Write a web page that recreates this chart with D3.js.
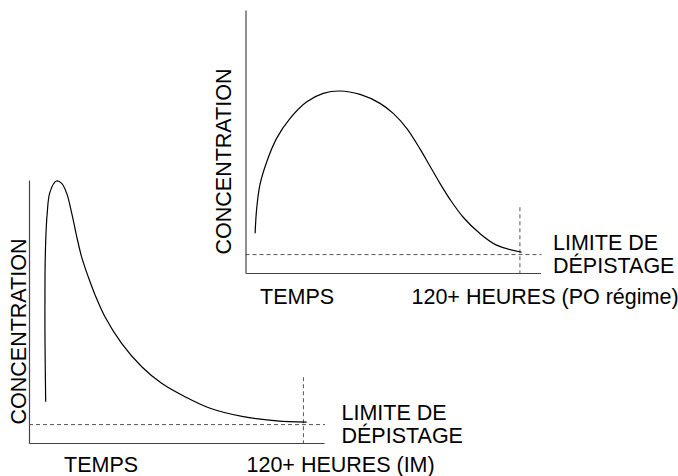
<!DOCTYPE html>
<html>
<head>
<meta charset="utf-8">
<script src="https://cdn.jsdelivr.net/npm/d3@7"></script>
<style>
  body { margin: 0; background: #fff; }
  svg { display: block; }
  text { font-family: "Liberation Sans", Arial, sans-serif; font-size: 21.5px; fill: #000; }
</style>
</head>
<body>
<div id="chart"></div>
<script>
// concentration curves (hours, concentration in % of axis)
var poHours = [4.2, 4.9, 6.3, 9.3, 13.6, 19.5, 26.8, 34.0, 41.3, 50.1, 58.8, 64.6, 70.5, 76.3, 80.7, 85.1, 89.5, 95.2, 102.5, 109.8, 120.8];
var poConc  = [15.1, 24.6, 33.5, 42.3, 51.2, 58.8, 65.1, 68.3, 69.2, 67.9, 64.5, 60.7, 55.0, 47.2, 40.6, 34.0, 27.9, 21.2, 15.0, 10.6, 7.9];

var imHours = [7.3, 7.0, 7.0, 7.3, 7.9, 9.2, 12.0, 14.3, 16.5, 18.7, 20.9, 23.0, 25.9, 28.9, 33.2, 40.5, 49.3, 58.0, 68.2, 79.2, 93.7, 108.3, 121.4];
var imConc  = [15.7, 38.5, 63.9, 76.5, 86.7, 95.5, 99.6, 98.7, 94.9, 87.3, 78.4, 70.8, 63.2, 56.3, 48.0, 37.9, 29.0, 22.7, 17.6, 13.2, 10.0, 8.4, 7.9];

var detectionLimit = 7;       // limite de dépistage
var cutoffHour = 120;         // 120+ heures
var cutoffMarkTop = 25;       // height of the dotted vertical marker
var hourMax = 129;
var concMax = 100;

var yLabel = "CONCENTRATION";
var xLabelStart = "TEMPS";
var limitLines = ["LIMITE DE", "DÉPISTAGE"];
var poEndLabel = "120+ HEURES (PO régime)";
var imEndLabel = "120+ HEURES (IM)";

var width = 678,
    height = 476,
    panelW = 295,
    panelH = 263;

var svg = d3.select("#chart").append("svg")
    .attr("width", width)
    .attr("height", height);

var x = d3.scaleLinear().domain([0, hourMax]).range([0, panelW]);
var y = d3.scaleLinear().domain([0, concMax]).range([panelH, 0]);

var line = d3.line()
    .x(function(d) { return x(d[0]); })
    .y(function(d) { return y(d[1]); })
    .curve(d3.curveCatmullRom.alpha(0.5));

/* draws one panel: axes, dotted limit, curve and its labels
   opts.left/top = position of the plot box, label offsets relative to it */
function drawPanel(opts) {
  var g = svg.append("g")
      .attr("transform", "translate(" + opts.left + "," + opts.top + ")");

  // axes without ticks, just the domain lines
  g.append("g")
      .attr("class", "axis")
      .call(d3.axisLeft(y).tickValues([]).tickSizeOuter(0));
  g.append("g")
      .attr("class", "axis")
      .attr("transform", "translate(0," + panelH + ")")
      .call(d3.axisBottom(x).tickValues([]).tickSizeOuter(0));
  g.selectAll(".axis path")
      .attr("stroke", "#444")
      .attr("stroke-width", 1.2);

  // detection limit
  g.append("line")
      .attr("x1", x(0)).attr("x2", x(hourMax) + 1)
      .attr("y1", y(detectionLimit)).attr("y2", y(detectionLimit))
      .attr("stroke", "#555")
      .attr("stroke-width", 1)
      .attr("stroke-dasharray", "4,3");
  g.append("line")
      .attr("x1", x(cutoffHour)).attr("x2", x(cutoffHour))
      .attr("y1", y(cutoffMarkTop)).attr("y2", y(0))
      .attr("stroke", "#555")
      .attr("stroke-width", 1)
      .attr("stroke-dasharray", "4,3");

  g.append("path")
      .datum(d3.zip(opts.hours, opts.conc))
      .attr("d", line)
      .attr("fill", "none")
      .attr("stroke", "#000")
      .attr("stroke-width", 1.2);

  // labels
  g.append("text")
      .attr("transform", "translate(" + opts.yLabelX + "," + (panelH / 2 + 20) + ") rotate(-90)")
      .attr("text-anchor", "middle")
      .text(yLabel);
  g.append("text")
      .attr("x", opts.tempsX)
      .attr("y", panelH + opts.xLabelDy)
      .text(xLabelStart);
  g.append("text")
      .attr("x", opts.endX)
      .attr("y", panelH + opts.xLabelDy)
      .text(opts.endLabel);

  g.append("text")
      .attr("x", opts.limitX)
      .attr("y", panelH - 23.5)
      .selectAll("tspan")
      .data(limitLines)
      .enter().append("tspan")
        .attr("x", opts.limitX)
        .attr("dy", function(d, i) { return i ? 23.8 : 0; })
        .text(function(d) { return d; });
}

drawPanel({
  left: 245.5, top: 10,
  hours: poHours, conc: poConc,
  yLabelX: -14.5, tempsX: 14.5, endX: 166, xLabelDy: 30.5,
  endLabel: poEndLabel, limitX: 307.5
});

drawPanel({
  left: 29, top: 180,
  hours: imHours, conc: imConc,
  yLabelX: -3.5, tempsX: 35, endX: 217.5, xLabelDy: 28.5,
  endLabel: imEndLabel, limitX: 312.5
});
</script>
</body>
</html>
